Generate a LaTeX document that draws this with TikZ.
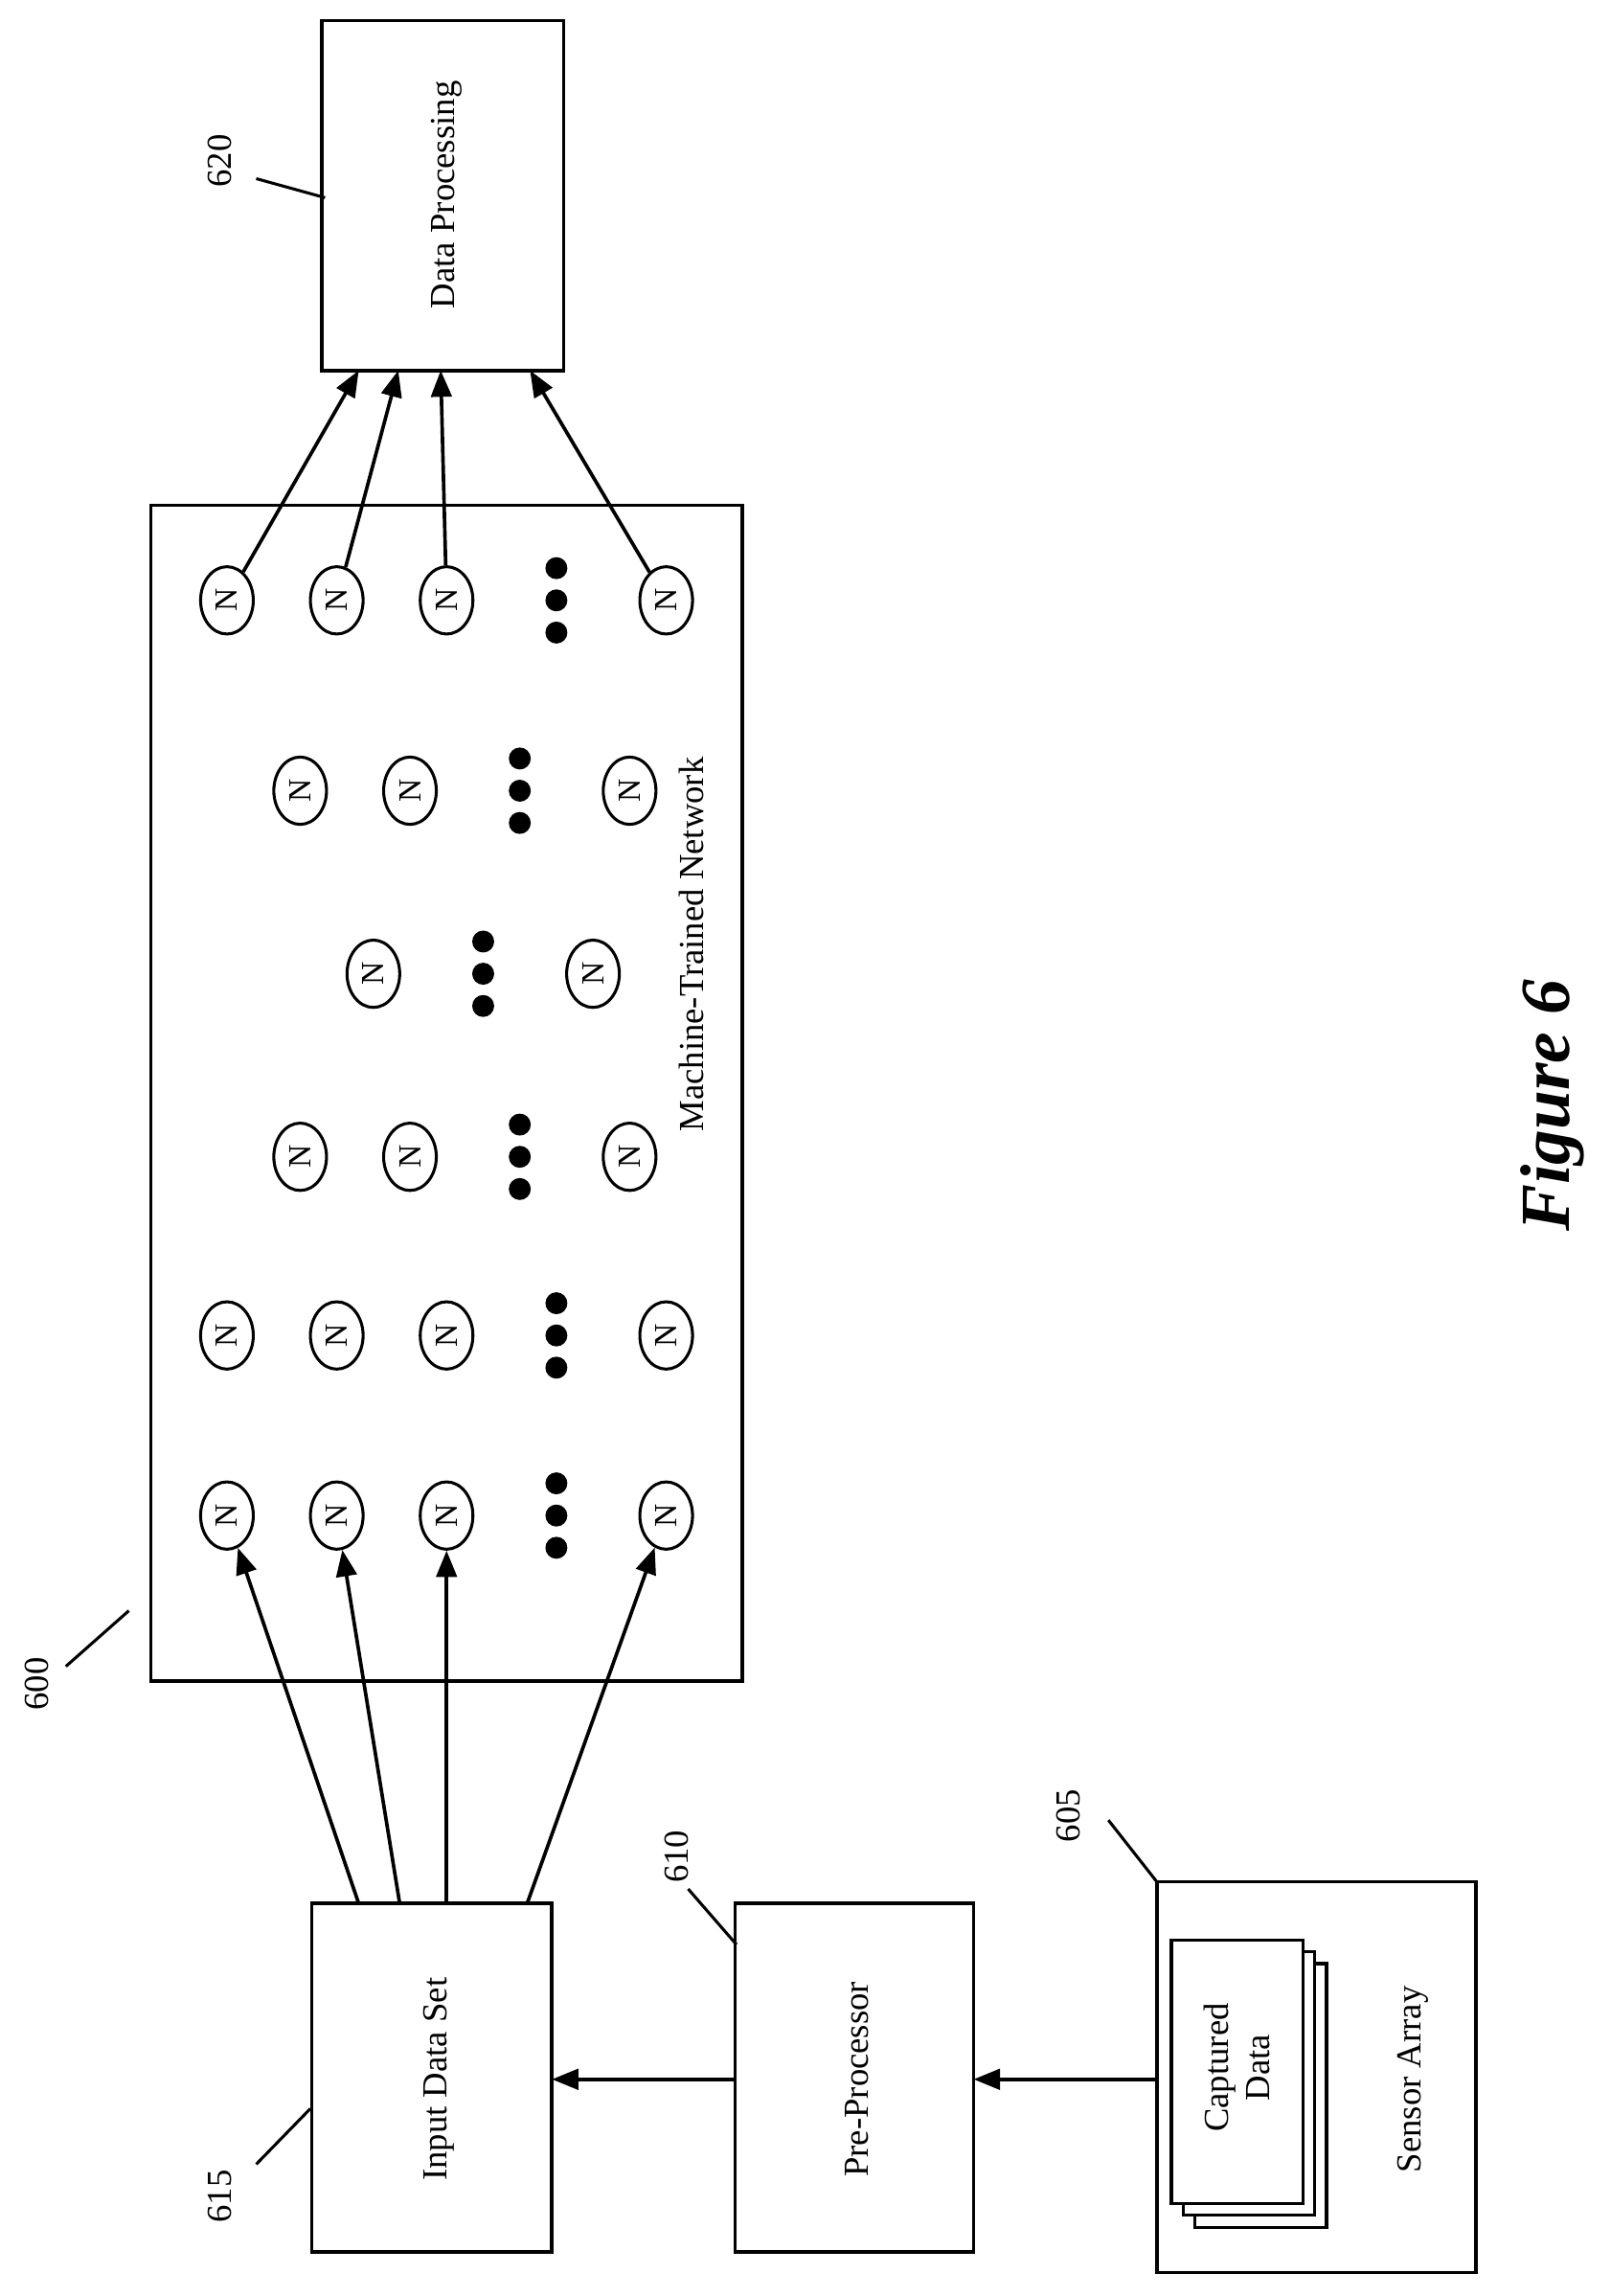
\documentclass[tikz,border=0pt]{standalone}
\usepackage{fontspec}
\setmainfont{Liberation Serif}
\usetikzlibrary{arrows.meta,shapes.geometric}
\begin{document}
\begin{tikzpicture}[x=0.5pt,y=-0.5pt,
 box/.style={draw,line width=1.2pt},
 lbl/.style={rotate=90,font=\fontsize{12}{14}\selectfont,align=center},
 neu/.style={draw,line width=1pt,ellipse,minimum width=18pt,minimum height=23pt,inner sep=0pt,font=\fontsize{11}{12}\selectfont},
 arr/.style={line width=1.2pt,-{Triangle[length=9pt,width=7pt]}},
 lead/.style={line width=1pt}]
\useasboundingbox (0,0) rectangle (1100,1568);
% Data processing
\draw[box] (220,14) rectangle (385,253);
\node[lbl] (dp) at (305,133) {Data Processing};
\node[lbl] (l620) at (150,110) {620};
\draw[lead] (175,122) -- (222,135);
% main box
\draw[box] (103,345) rectangle (507,1148);
\node[lbl] (mtn) at (472,645) {Machine-Trained Network};
\node[lbl] (l600) at (25,1150) {600};
\draw[lead] (45,1138) -- (88,1100);
% neurons
\foreach \c/\y/\xs/\dx/\lx in {a/410/{155,230,305}/380/455, b/540/{205,280}/355/430, c/665/{255}/330/405, d/790/{205,280}/355/430, e/912/{155,230,305}/380/455, f/1035/{155,230,305}/380/455}{
  \foreach \x [count=\i] in \xs { \node[neu] (\c\i) at (\x,\y) {\rotatebox{90}{N}}; }
  \node[neu] (\c L) at (\lx,\y) {\rotatebox{90}{N}};
  \foreach \o in {-22,0,22} \fill (\dx,\y+\o) circle (7.5);
}
% output arrows
\draw[arr] (a1) -- (245,253);
\draw[arr] (a2) -- (272,253);
\draw[arr] (a3) -- (301,253);
\draw[arr] (aL) -- (362,253);
% input data set
\draw[box] (213,1300) rectangle (377,1538);
\node[lbl] (ids) at (300,1420) {Input Data Set};
\node[lbl] (l615) at (150,1500) {615};
\draw[lead] (175,1478) -- (212,1440);
\coordinate (i1) at (245,1300); \coordinate (i2) at (273,1300);
\coordinate (i3) at (305,1300); \coordinate (i4) at (360,1300);
\draw[arr] (i1) -- (f1);
\draw[arr] (i2) -- (f2);
\draw[arr] (i3) -- (f3);
\draw[arr] (i4) -- (fL);
% pre-processor
\draw[box] (502,1300) rectangle (665,1538);
\node[lbl] (pp) at (585,1420) {Pre-Processor};
\node[lbl] (l610) at (462,1268) {610};
\draw[lead] (470,1290) -- (503,1328);
\draw[arr] (502,1420) -- (377,1420);
% sensor array
\draw[box] (790,1285) rectangle (1008,1552);
\node[lbl] (sa) at (965,1420) {Sensor Array};
\node[lbl] (l605) at (730,1240) {605};
\draw[lead] (757,1243) -- (790,1285);
\draw[line width=1pt,fill=white] (816,1341) rectangle (906,1521);
\draw[line width=1pt,fill=white] (808,1333) rectangle (898,1513);
\draw[line width=1pt,fill=white] (800,1325) rectangle (890,1505);
\node[lbl] (cd) at (845,1412) {Captured\\Data};
\draw[arr] (790,1420) -- (665,1420);
% figure
\node[rotate=90,font=\fontsize{24}{28}\selectfont\bfseries\itshape] (fig) at (1060,755) {Figure 6};
\end{tikzpicture}
\end{document}
